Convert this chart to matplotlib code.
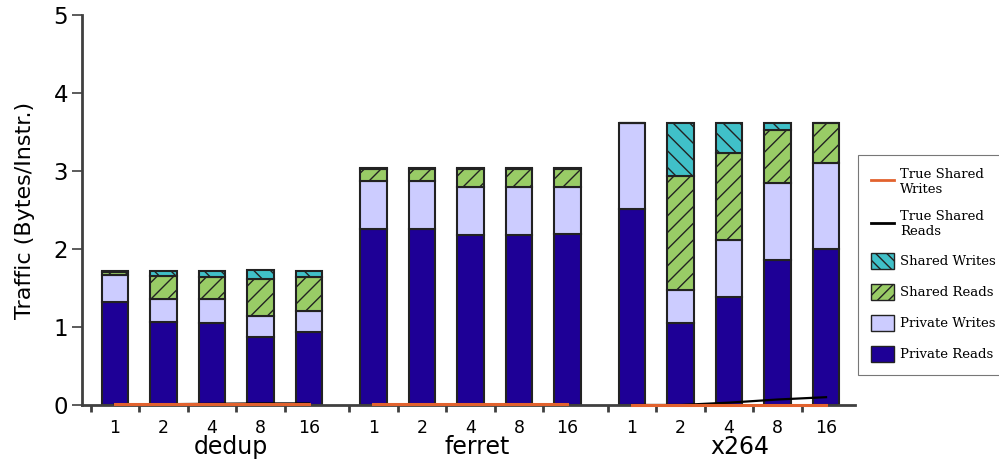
import numpy as np
import matplotlib
matplotlib.use("Agg")
import matplotlib.pyplot as plt
from matplotlib.patches import Patch
from matplotlib.lines import Line2D

plt.rcParams['hatch.linewidth'] = 1.0
plt.rcParams['font.family'] = ['DejaVu Sans']

# data
benchmarks = ["dedup", "ferret", "x264"]
threads = ["1", "2", "4", "8", "16"]

private_reads = [[1.32, 1.06, 1.055, 0.875, 0.94],
                 [2.26, 2.26, 2.18, 2.18, 2.19],
                 [2.51, 1.05, 1.39, 1.86, 2.00]]
private_writes = [[0.35, 0.295, 0.305, 0.265, 0.27],
                  [0.61, 0.61, 0.61, 0.61, 0.61],
                  [1.11, 0.42, 0.72, 0.99, 1.10]]
shared_reads = [[0.03, 0.295, 0.285, 0.48, 0.425],
                [0.16, 0.16, 0.24, 0.24, 0.23],
                [0.0, 1.46, 1.12, 0.68, 0.52]]
shared_writes = [[0.02, 0.07, 0.075, 0.105, 0.085],
                 [0.01, 0.01, 0.01, 0.01, 0.01],
                 [0.0, 0.69, 0.39, 0.09, 0.0]]
true_shared_writes = [[0.01, 0.01, 0.01, 0.01, 0.01],
                      [0.01, 0.01, 0.01, 0.01, 0.01],
                      [0.0, 0.0, 0.0, 0.0, 0.0]]
true_shared_reads = [[0.01, 0.01, 0.015, 0.02, 0.02],
                     [0.005, 0.005, 0.01, 0.01, 0.01],
                     [0.0, 0.0, 0.03, 0.07, 0.10]]

c_pr = "#1e0096"
c_pw = "#ccccff"
c_sr = "#99cc66"
c_sw = "#40c0c8"
c_tw = "#e2622e"
c_tr = "#000000"
edge = "#222222"

fig = plt.figure(figsize=(9.99, 4.67), dpi=100)
ax = fig.add_axes([0.082, 0.1328, 0.774, 0.835])

step = 5.33
width = 0.54
minor = []
for g in range(3):
    x = g * step + np.arange(5)
    pr = np.array(private_reads[g])
    pw = np.array(private_writes[g])
    sr = np.array(shared_reads[g])
    sw = np.array(shared_writes[g])
    ax.bar(x, pr, width, color=c_pr, edgecolor=edge, linewidth=1.5, zorder=2)
    ax.bar(x, pw, width, bottom=pr, color=c_pw, edgecolor=edge, linewidth=1.5, zorder=2)
    ax.bar(x, sr, width, bottom=pr + pw, color=c_sr, edgecolor=edge, linewidth=1.5,
           hatch="//", zorder=2)
    ax.bar(x, sw, width, bottom=pr + pw + sr, color=c_sw, edgecolor=edge, linewidth=1.5,
           hatch="\\\\", zorder=2)
    ax.plot(x, true_shared_reads[g], color=c_tr, lw=1.6, zorder=3, clip_on=False)
    ax.plot(x, true_shared_writes[g], color=c_tw, lw=2.2, zorder=4, clip_on=False)
    minor += list(x - 0.5)

offs = [2.4, 2.13, 2.23]
for g, name in enumerate(benchmarks):
    ax.text(g * step + offs[g], -0.108, name, transform=ax.get_xaxis_transform(),
            ha="center", va="center", fontsize=17)

ticks = [g * step + i for g in range(3) for i in range(5)]
ax.set_xticks(ticks)
ax.set_xticklabels(threads * 3, fontsize=12.5)
ax.set_xticks(minor, minor=True)
ax.tick_params(axis="x", which="major", length=0, pad=10)
ax.tick_params(axis="x", which="minor", length=5, width=2, color="#404040", direction="out")

ax.set_xlim(-0.68, 15.26)
ax.set_ylim(0, 5)
ax.set_yticks([0, 1, 2, 3, 4, 5])
ax.tick_params(axis="y", length=7, width=1.2, color="#404040", labelsize=16.5, pad=3)
ax.set_ylabel("Traffic (Bytes/Instr.)", fontsize=16, labelpad=13)

for s in ["top", "right"]:
    ax.spines[s].set_visible(False)
for s in ["left", "bottom"]:
    ax.spines[s].set_color("#404040")
    ax.spines[s].set_linewidth(2)

handles = [Line2D([], [], color=c_tw, lw=2),
           Line2D([], [], color=c_tr, lw=2),
           Patch(facecolor=c_sw, edgecolor=edge, hatch="\\\\\\"),
           Patch(facecolor=c_sr, edgecolor=edge, hatch="///"),
           Patch(facecolor=c_pw, edgecolor=edge),
           Patch(facecolor=c_pr, edgecolor=edge)]
labels = ["True Shared\nWrites", "True Shared\nReads", "Shared Writes",
          "Shared Reads", "Private Writes", "Private Reads"]
leg = fig.legend(handles, labels, loc="upper left", bbox_to_anchor=(0.859, 0.668),
                 prop={"family": "DejaVu Serif", "size": 9.5}, frameon=True,
                 fancybox=False, edgecolor="#555555", handlelength=1.8,
                 handleheight=1.55, labelspacing=1.1, borderpad=0.95,
                 handletextpad=0.45, borderaxespad=0)
leg.get_frame().set_linewidth(0.8)

fig.savefig("out.png", dpi=100)
